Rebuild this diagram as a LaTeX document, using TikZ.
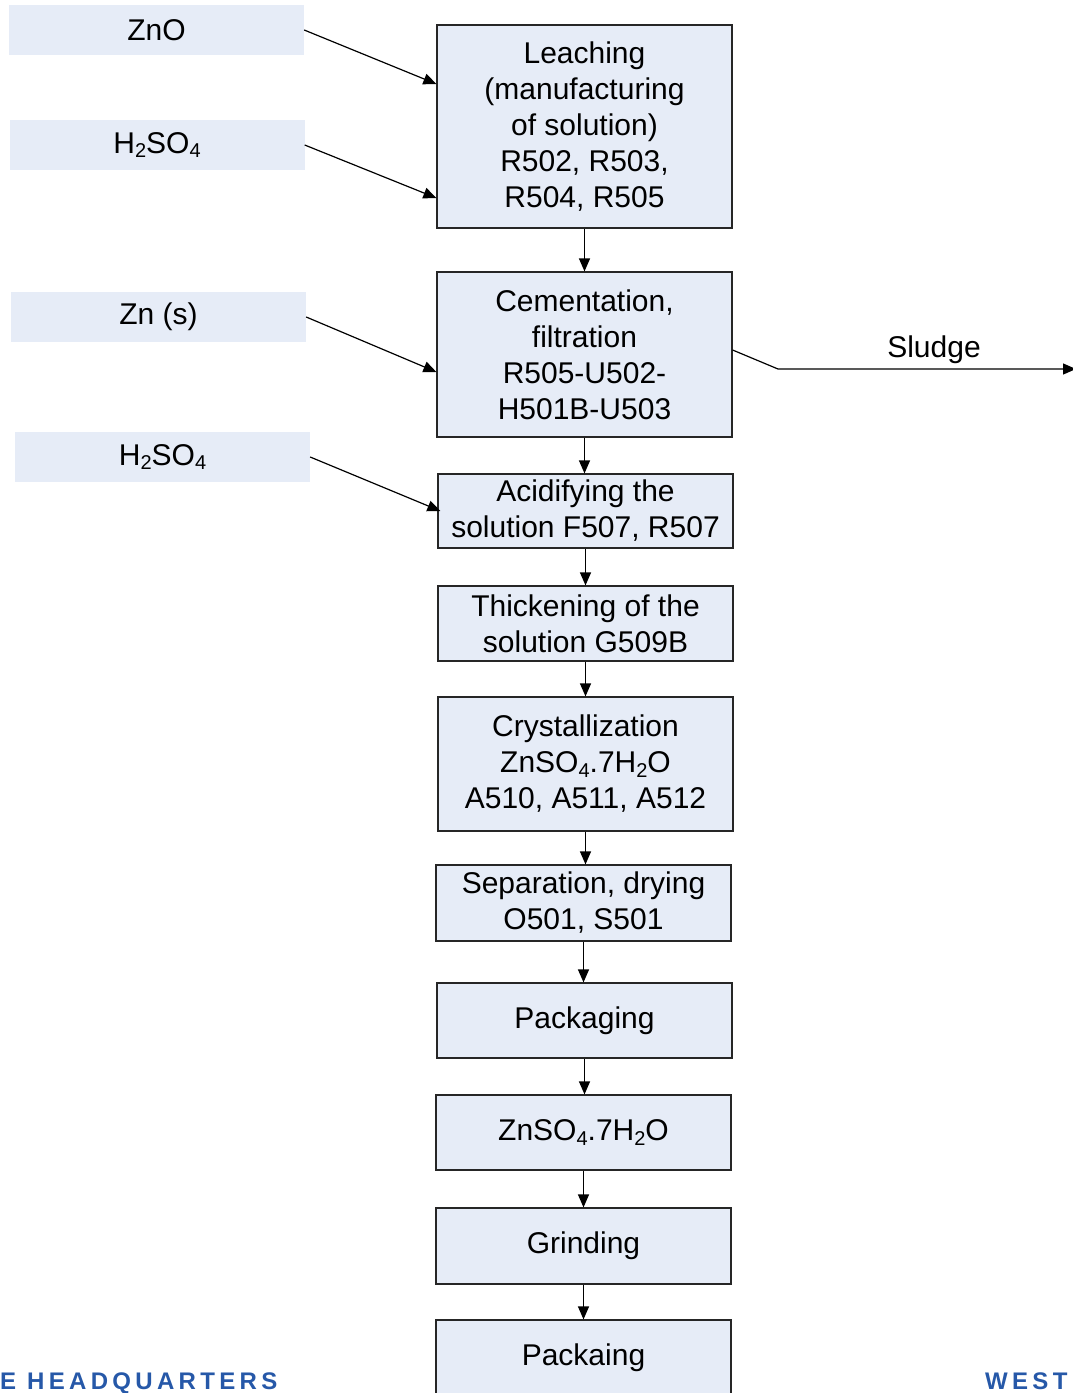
\documentclass[tikz,border=0pt]{standalone}
\usepackage{fontspec}
\setmainfont{Liberation Sans}
\usetikzlibrary{arrows.meta,calc}
\definecolor{boxfill}{RGB}{230,236,247}
\definecolor{wmblue}{RGB}{38,88,168}
\newcommand\sbs[1]{\raisebox{-0.28ex}{\fontsize{20}{20}\selectfont #1}}
\tikzset{
  inbox/.style={fill=boxfill, draw=none, minimum width=295pt, minimum height=50pt, inner sep=0pt, font=\fontsize{30}{36}\selectfont},
  procbox/.style={fill=boxfill, draw=black!85, line width=1.2pt, minimum width=295pt, inner sep=0pt, align=center, font=\fontsize{30}{36}\selectfont},
  flow/.style={draw=black, line width=1.2pt, -{Triangle[length=13pt,width=11pt]}},
  wm/.style={text=wmblue, inner sep=0pt, font=\fontsize{24}{24}\selectfont\bfseries\addfontfeature{LetterSpace=18}}
}
\begin{document}
\begin{tikzpicture}[x=1pt,y=-1pt]
\useasboundingbox (0,0) rectangle (1072,1393);
% inputs
\node[inbox] (zno) at (156.5,30) {ZnO};
\node[inbox] (hso1) at (157,145) {H\sbs{2}SO\sbs{4}};
\node[inbox] (zns) at (158.5,317) {Zn (s)};
\node[inbox] (hso2) at (162.5,457) {H\sbs{2}SO\sbs{4}};
% process boxes
\node[procbox, minimum height=203pt] (leach) at (584.5,126.5) {Leaching\\(manufacturing\\of solution)\\R502, R503,\\R504, R505};
\node[procbox, minimum height=165pt] (cem) at (584.5,354.5) {Cementation,\\filtration\\R505-U502-\\H501B-U503};
\node[procbox, minimum height=74pt] (acid) at (585.5,511) {Acidifying the\\solution F507, R507};
\node[procbox, minimum height=75pt] (thick) at (585.5,623.5) {Thickening of the\\solution G509B};
\node[procbox, minimum height=134pt] (cryst) at (585.5,764) {Crystallization\\ZnSO\sbs{4}.7H\sbs{2}O\\A510, A511, A512};
\node[procbox, minimum height=76pt] (sep) at (583.5,903) {Separation, drying\\O501, S501};
\node[procbox, minimum height=75pt] (pack) at (584.5,1020.5) {Packaging};
\node[procbox, minimum height=75pt] (prod) at (583.5,1132.5) {ZnSO\sbs{4}.7H\sbs{2}O};
\node[procbox, minimum height=76pt] (grind) at (583.5,1246) {Grinding};
\node[procbox, minimum height=76pt] (pack2) at (583.5,1358) {Packaing};
% input arrows
\draw[flow] (zno.east) -- ([yshift=42.5pt]leach.west);
\draw[flow] (hso1.east) -- ([yshift=-71.5pt]leach.west);
\draw[flow] (zns.east) -- ([yshift=-17.5pt]cem.west);
\draw[flow] (hso2.east) -- ([xshift=3pt]acid.west);
% vertical flow
\draw[flow] (leach.south) -- (leach.south |- cem.north);
\draw[flow] (cem.south) -- (cem.south |- acid.north);
\draw[flow] (acid.south) -- (acid.south |- thick.north);
\draw[flow] (thick.south) -- (thick.south |- cryst.north);
\draw[flow] (cryst.south) -- (cryst.south |- sep.north);
\draw[flow] (sep.south) -- (sep.south |- pack.north);
\draw[flow] (pack.south) -- (pack.south |- prod.north);
\draw[flow] (prod.south) -- (prod.south |- grind.north);
\draw[flow] (grind.south) -- (grind.south |- pack2.north);
% sludge
\coordinate (sbend) at (778,369);
\coordinate (send) at (1076,369);
\draw[flow] ([yshift=4.5pt]cem.east) -- (sbend) -- (send);
\node[font=\fontsize{30}{36}\selectfont, inner sep=0pt] (sludge) at (934,350) {Sludge};
% footer text
\node[wm, anchor=base west] (hq) at (0,1389) {E HEADQUARTERS};
\node[wm, anchor=base west] (west) at (985,1389) {WEST};
\end{tikzpicture}
\end{document}
